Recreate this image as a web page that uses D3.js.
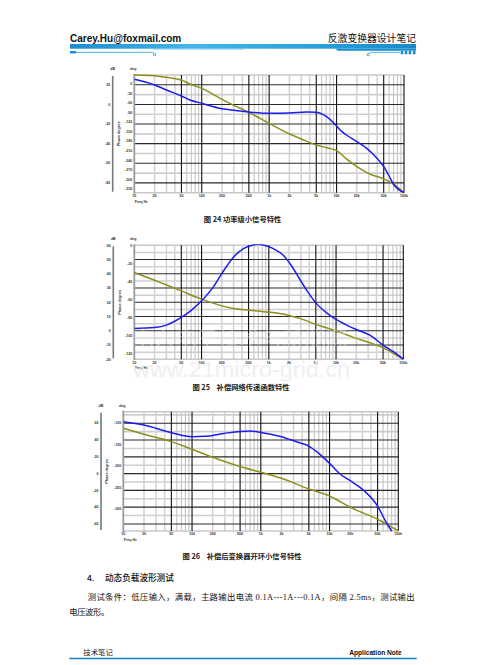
<!DOCTYPE html>
<html>
<head>
<meta charset="utf-8">
<script src="https://cdn.jsdelivr.net/npm/d3@7"></script>
<style>
  body { margin: 0; background: #fff; }
  text { font-family: "Liberation Sans", Arial, sans-serif; }
</style>
</head>
<body>
<div id="page"></div>
<script>
// shared frequency axis (Hz)
const freqTicks = [10, 20, 50, 100, 200, 500, 1e3, 2e3, 5e3, 1e4, 2e4, 5e4, 1e5];
const freqLabels = ["10", "20", "50", "100", "200", "500", "1k", "2k", "5k", "10k", "20k", "50k", "100k"];

// Fig 24: power stage small signal
const fig24GainFreq = [10, 20, 30, 50, 67, 100, 200, 300, 500, 1e3, 2e3, 3e3, 5e3, 7.1e3, 1e4, 1.4e4, 2e4, 3.1e4, 5e4, 6.95e4, 1e5];
const fig24Gain = [30, 29.3, 27.6, 24.9, 20.8, 16.4, 5.2, -0.9, -8.1, -19.3, -30.1, -35.2, -41.4, -44.1, -47.1, -55.6, -63.4, -70.9, -76, -81.1, -90];
const fig24PhaseFreq = [10, 20, 30, 50, 67, 100, 200, 300, 500, 1e3, 2e3, 3.6e3, 5e3, 5.7e3, 7.1e3, 1e4, 1.13e4, 1.4e4, 2e4, 2.8e4, 3.5e4, 5e4, 5.9e4, 6.95e4, 1e5];
const fig24Phase = [14.7, -3.1, -18.8, -37.7, -50.3, -60.7, -77.5, -82.7, -88, -92.1, -91.1, -88, -89, -92.1, -102.6, -131.9, -144.5, -160.2, -181.1, -202.1, -221, -259.7, -285.9, -314.1, -341];
const fig24GainTicks = [20, 0, -20, -40, -60, -80];
const fig24GainRange = [30, -90];
const fig24PhaseTicks = [0, -30, -60, -90, -120, -150, -180, -210, -240, -270, -300, -330];
const fig24PhaseRange = [28.3, -341.5];

// Fig 25: compensation network
const fig25GainFreq = [10, 20, 50, 100, 200, 300, 500, 1e3, 2e3, 2.9e3, 5e3, 7.24e3, 1e4, 1.44e4, 2e4, 3.19e4, 5e4, 1e5];
const fig25Gain = [40.9, 35.5, 28, 22.2, 17.5, 15.7, 14.5, 13.1, 10.8, 8.7, 4.5, 2.1, -0.2, -2.8, -5.3, -8.4, -11.9, -20];
const fig25PhaseFreq = [10, 20, 30, 50, 71, 100, 150, 200, 300, 420, 590, 700, 830, 1170, 1640, 2300, 2900, 3650, 5e3, 7240, 1e4, 1.44e4, 2e4, 3.19e4, 5e4, 7.1e4, 1e5];
const fig25Phase = [-91.7, -90.6, -88, -79.5, -71.3, -60.9, -45.3, -30.5, -11.9, -2.6, 1.5, 2.2, 1.5, -2.6, -10, -24.5, -37.1, -49, -63.2, -74.3, -81.7, -88, -92.9, -99.2, -110.3, -117.7, -126];
const fig25GainTicks = [60, 50, 40, 30, 20, 10, 0, -10, -20];
const fig25GainRange = [60, -20];
const fig25PhaseTicks = [0, -20, -40, -60, -80, -100, -120];
const fig25PhaseRange = [1.1, -126.2];

// Fig 26: compensated open loop
const fig26GainFreq = [10, 20, 50, 100, 200, 500, 1e3, 2e3, 5e3, 1e4, 1.42e4, 2e4, 5e4, 1e5];
const fig26Gain = [54, 46.9, 38.1, 29, 19.5, 8.4, 1.6, -5.6, -18.3, -26.6, -33.4, -40.1, -54.4, -68.3];
const fig26PhaseFreq = [10, 20, 50, 100, 150, 290, 500, 700, 1e3, 2e3, 3.3e3, 5e3, 6.5e3, 1e4, 1.42e4, 2e4, 3.1e4, 5e4, 6.4e4, 8e4];
const fig26Phase = [-97.7, -105.4, -123.2, -132.4, -131.6, -124.7, -120.1, -119.3, -122.4, -132.4, -144, -154, -167.1, -194.1, -218.8, -234.3, -255.9, -292.9, -325.3, -350.8];
const fig26GainTicks = [60, 40, 20, 0, -20, -40, -60];
const fig26GainRange = [73.8, -68.4];
const fig26PhaseTicks = [-100, -150, -200, -250, -300];
const fig26PhaseRange = [-74.5, -350.7];

const W = 483, H = 665;
const blue = "#1c1cf0", olive = "#8e8e1c";

const svg = d3.select("#page").append("svg")
  .attr("width", W).attr("height", H)
  .attr("viewBox", `0 0 ${W} ${H}`);

// ---------- page header ----------
const defs = svg.append("defs");
const grad = defs.append("linearGradient").attr("id", "band");
grad.append("stop").attr("offset", "0%").attr("stop-color", "#1d8ccf");
grad.append("stop").attr("offset", "35%").attr("stop-color", "#44b6e8");
grad.append("stop").attr("offset", "70%").attr("stop-color", "#2aa2de");
grad.append("stop").attr("offset", "100%").attr("stop-color", "#168acc");

svg.append("text").attr("x", 70).attr("y", 42)
  .attr("font-size", 10).attr("font-weight", "bold").attr("fill", "#111")
  .text("Carey.Hu@foxmail.com");
svg.append("text").attr("x", 416).attr("y", 42).attr("text-anchor", "end")
  .style("font-family", "'Noto Sans CJK SC'").attr("font-size", 9.8).attr("fill", "#111")
  .text("反激变换器设计笔记");

svg.append("rect").attr("x", 70).attr("y", 44).attr("width", 346).attr("height", 4.7).attr("fill", "url(#band)");
svg.append("path").attr("d", "M152,48.7 L245,48.7 L243.5,49.6 L153,49.6 Z").attr("fill", "#6cc6ee");
svg.append("path").attr("d", "M335,48.7 L416,48.7 L416,50.8 L338,50.8 Z").attr("fill", "#1a8ed0");
svg.append("rect").attr("x", 70).attr("y", 51).attr("width", 6).attr("height", 2.4).attr("fill", "#1a8ed0");
svg.append("path").attr("d", "M76,52.3 L152.5,52.3 L154,53.6").attr("fill", "none").attr("stroke", "#3aa6e0").attr("stroke-width", 0.9);
svg.append("circle").attr("cx", 154.6).attr("cy", 54.6).attr("r", 1.2).attr("fill", "#fff").attr("stroke", "#1a8ed0").attr("stroke-width", 0.8);
svg.append("path").attr("d", "M369,53.6 L370.5,52.3 L400,52.3").attr("fill", "none").attr("stroke", "#3aa6e0").attr("stroke-width", 0.9);
svg.append("circle").attr("cx", 368.3).attr("cy", 54.6).attr("r", 1.2).attr("fill", "#fff").attr("stroke", "#1a8ed0").attr("stroke-width", 0.8);
[400.7, 404.7, 408.7, 412.9].forEach(x => {
  svg.append("rect").attr("x", x).attr("y", 51).attr("width", 2.6).attr("height", 3.3).attr("fill", "#1a8ed0");
});

// ---------- bode plot ----------
function bode(L, d) {
  const g = svg.append("g");
  const x = d3.scaleLog().domain([10, 1e5]).range([L.left, L.right]);
  const yG = d3.scaleLinear().domain(d.gainRange).range([L.top, L.bottom]);
  const yP = d3.scaleLinear().domain(d.phaseRange).range([L.top, L.bottom]);

  // vertical grid: 5x and 10x are black, the rest grey
  const minorF = [], majorF = [];
  for (let dec = 10; dec < 1e5; dec *= 10) {
    [2, 3, 4, 6, 7, 8, 9].forEach(m => minorF.push(dec * m));
    majorF.push(dec * 5, dec * 10);
  }
  // horizontal grid follows the gain axis, grey halfway between ticks
  const step = d.gainTicks[0] - d.gainTicks[1];
  const lo = Math.min(...d.gainRange), hi = Math.max(...d.gainRange);
  const minorG = [];
  for (let k = -40; k <= 40; k++) {
    const v = d.gainTicks[0] + (k + 0.5) * step;
    if (v > lo + 0.5 && v < hi - 0.5) minorG.push(v);
  }

  g.selectAll(".hm").data(minorG).enter().append("line")
    .attr("x1", L.left).attr("x2", L.right)
    .attr("y1", v => yG(v)).attr("y2", v => yG(v))
    .attr("stroke", "#cfcfcf").attr("stroke-width", 1.6);
  g.selectAll(".vm").data(minorF).enter().append("line")
    .attr("x1", f => x(f)).attr("x2", f => x(f))
    .attr("y1", L.top).attr("y2", L.bottom)
    .attr("stroke", f => (String(f)[0] < "5") ? "#d2d2d2" : "#c4c4c4")
    .attr("stroke-width", f => (String(f)[0] < "5") ? 1.5 : 1.1);
  // borders
  g.append("line").attr("x1", L.left).attr("x2", L.right).attr("y1", L.top).attr("y2", L.top)
    .attr("stroke", "#c8c8c8").attr("stroke-width", 1.6);
  g.append("line").attr("x1", L.left).attr("x2", L.right).attr("y1", L.bottom).attr("y2", L.bottom)
    .attr("stroke", "#c8c8c8").attr("stroke-width", 1.6);
  g.selectAll(".hM").data(d.gainTicks.filter(v => v < hi - 0.5 && v > lo + 0.5)).enter().append("line")
    .attr("x1", L.left).attr("x2", L.right)
    .attr("y1", v => yG(v)).attr("y2", v => yG(v))
    .attr("stroke", "#2a2a2a").attr("stroke-width", 1.1);
  g.selectAll(".vM").data(majorF).enter().append("line")
    .attr("x1", f => x(f)).attr("x2", f => x(f))
    .attr("y1", L.top).attr("y2", L.bottom)
    .attr("stroke", "#111").attr("stroke-width", 1.1);
  g.append("line").attr("x1", L.left).attr("x2", L.left).attr("y1", L.top - 1).attr("y2", L.bottom + 1)
    .attr("stroke", "#9a9a9a").attr("stroke-width", 1.8);

  // outer (gain) axis
  g.append("line").attr("x1", L.outer).attr("x2", L.outer).attr("y1", L.top + 1).attr("y2", L.bottom - 1)
    .attr("stroke", "#777").attr("stroke-width", 1.6);
  g.selectAll(".gl").data(d.gainTicks).enter().append("text")
    .attr("x", L.outer - 2.5).attr("y", v => yG(v) + 1.2)
    .attr("text-anchor", "end").attr("font-size", 3.6).attr("font-weight", "bold").attr("fill", "#333")
    .text(v => v);
  g.append("text").attr("x", L.outer).attr("y", L.top - 5).attr("text-anchor", "middle")
    .attr("font-size", 3.6).attr("font-weight", "bold").attr("fill", "#333").text("dB");

  // inner (phase) axis
  g.selectAll(".pl").data(d.phaseTicks).enter().append("text")
    .attr("x", L.left - 2).attr("y", v => yP(v) + 1.2)
    .attr("text-anchor", "end").attr("font-size", 3.6).attr("font-weight", "bold").attr("fill", "#333")
    .text(v => v);
  g.append("text").attr("x", L.left - 1).attr("y", L.top - 5).attr("text-anchor", "middle")
    .attr("font-size", 3.6).attr("font-weight", "bold").attr("fill", "#333").text("deg");
  g.append("text")
    .attr("transform", `translate(${L.titleX},${(L.top + L.bottom) / 2}) rotate(-90)`)
    .attr("text-anchor", "middle").attr("font-size", 3.8).attr("font-weight", "bold").attr("fill", "#333")
    .text("Phase degree");

  // frequency labels
  g.selectAll(".fl").data(freqTicks).enter().append("text")
    .attr("x", f => x(f)).attr("y", L.bottom + 4.2)
    .attr("text-anchor", "middle").attr("font-size", 3.6).attr("font-weight", "bold").attr("fill", "#333")
    .text((f, i) => freqLabels[i]);
  g.append("text").attr("x", L.left + 7).attr("y", L.bottom + 10)
    .attr("text-anchor", "middle").attr("font-size", 3.6).attr("font-weight", "bold").attr("fill", "#333")
    .text("Freq Hz");

  // curves
  const cid = "clip" + L.top;
  defs.append("clipPath").attr("id", cid).append("rect")
    .attr("x", L.left).attr("y", L.top - 1).attr("width", L.right - L.left + 1).attr("height", L.bottom - L.top + 2);
  const line = y => d3.line().x(p => x(p[0])).y(p => y(p[1])).curve(d3.curveMonotoneX);
  g.append("path").datum(d3.zip(d.gainFreq, d.gain))
    .attr("clip-path", `url(#${cid})`)
    .attr("d", line(yG)).attr("fill", "none").attr("stroke", olive).attr("stroke-width", 1.5);
  g.append("path").datum(d3.zip(d.phaseFreq, d.phase))
    .attr("clip-path", `url(#${cid})`)
    .attr("d", line(yP)).attr("fill", "none").attr("stroke", blue).attr("stroke-width", 1.5);
  return g;
}

bode({ left: 134.3, right: 404, top: 75, bottom: 192.7, outer: 112.7, titleX: 120 },
  { gainFreq: fig24GainFreq, gain: fig24Gain, phaseFreq: fig24PhaseFreq, phase: fig24Phase,
    gainTicks: fig24GainTicks, gainRange: fig24GainRange, phaseTicks: fig24PhaseTicks, phaseRange: fig24PhaseRange });
bode({ left: 134.3, right: 403.3, top: 245.3, bottom: 359.3, outer: 113.3, titleX: 121 },
  { gainFreq: fig25GainFreq, gain: fig25Gain, phaseFreq: fig25PhaseFreq, phase: fig25Phase,
    gainTicks: fig25GainTicks, gainRange: fig25GainRange, phaseTicks: fig25PhaseTicks, phaseRange: fig25PhaseRange });
bode({ left: 123.3, right: 398.3, top: 411.7, bottom: 531, outer: 101, titleX: 107.5 },
  { gainFreq: fig26GainFreq, gain: fig26Gain, phaseFreq: fig26PhaseFreq, phase: fig26Phase,
    gainTicks: fig26GainTicks, gainRange: fig26GainRange, phaseTicks: fig26PhaseTicks, phaseRange: fig26PhaseRange });

// faint watermarks over fig 25
svg.append("text").attr("x", 132).attr("y", 346).attr("textLength", 215).attr("lengthAdjust", "spacingAndGlyphs")
  .style("font-family", "'Noto Sans CJK SC'").attr("font-size", 20).attr("fill", "#f6f6f6").attr("opacity", 0.4)
  .text("电力电子技术与新能源");
svg.append("text").attr("x", 133).attr("y", 377).attr("textLength", 217).attr("lengthAdjust", "spacingAndGlyphs")
  .attr("font-size", 22).attr("fill", "#ececec").attr("opacity", 0.8)
  .text("www.21micro-grid.cn");

// ---------- captions ----------
const cjk = "'Noto Sans CJK SC'";
[[242.5, 222, "图 24 功率级小信号特性"],
 [241, 389.5, "图 25    补偿网络传递函数特性"],
 [242, 558.5, "图 26    补偿后变换器开环小信号特性"]].forEach(([cx, cy, t]) => {
  svg.append("text").attr("x", cx).attr("y", cy).attr("text-anchor", "middle")
    .attr("xml:space", "preserve").style("white-space", "pre")
    .style("font-family", cjk).attr("font-size", 7.3).attr("font-weight", "bold").attr("fill", "#222").text(t);
});

// ---------- body text ----------
svg.append("text").attr("x", 87).attr("y", 580.5)
  .style("font-family", cjk).attr("font-size", 8.4).attr("font-weight", 500).attr("fill", "#111")
  .text("4.");
svg.append("text").attr("x", 105).attr("y", 580.5)
  .style("font-family", cjk).attr("font-size", 8.6).attr("font-weight", 500).attr("fill", "#111")
  .text("动态负载波形测试");
svg.append("text").attr("x", 87.7).attr("y", 599.5).attr("textLength", 327).attr("lengthAdjust", "spacing")
  .style("font-family", "'Liberation Serif', 'Noto Sans CJK SC'").attr("font-size", 8.4).attr("fill", "#111")
  .text("测试条件：低压输入，满载，主路输出电流 0.1A---1A---0.1A，间隔 2.5ms，测试输出");
svg.append("text").attr("x", 69.3).attr("y", 614.5).attr("textLength", 40).attr("lengthAdjust", "spacing")
  .style("font-family", "'Liberation Serif', 'Noto Sans CJK SC'").attr("font-size", 8.4).attr("fill", "#111")
  .text("电压波形。");

// ---------- footer ----------
svg.append("text").attr("x", 83.3).attr("y", 655)
  .style("font-family", cjk).attr("font-size", 7.4).attr("fill", "#222").text("技术笔记");
svg.append("text").attr("x", 401.7).attr("y", 655).attr("text-anchor", "end")
  .attr("font-size", 6.6).attr("font-weight", "bold").attr("fill", "#111").text("Application Note");
svg.append("line").attr("x1", 69.3).attr("x2", 416.7).attr("y1", 658.5).attr("y2", 658.5)
  .attr("stroke", "#1a7fc6").attr("stroke-width", 1.4);
</script>
</body>
</html>
